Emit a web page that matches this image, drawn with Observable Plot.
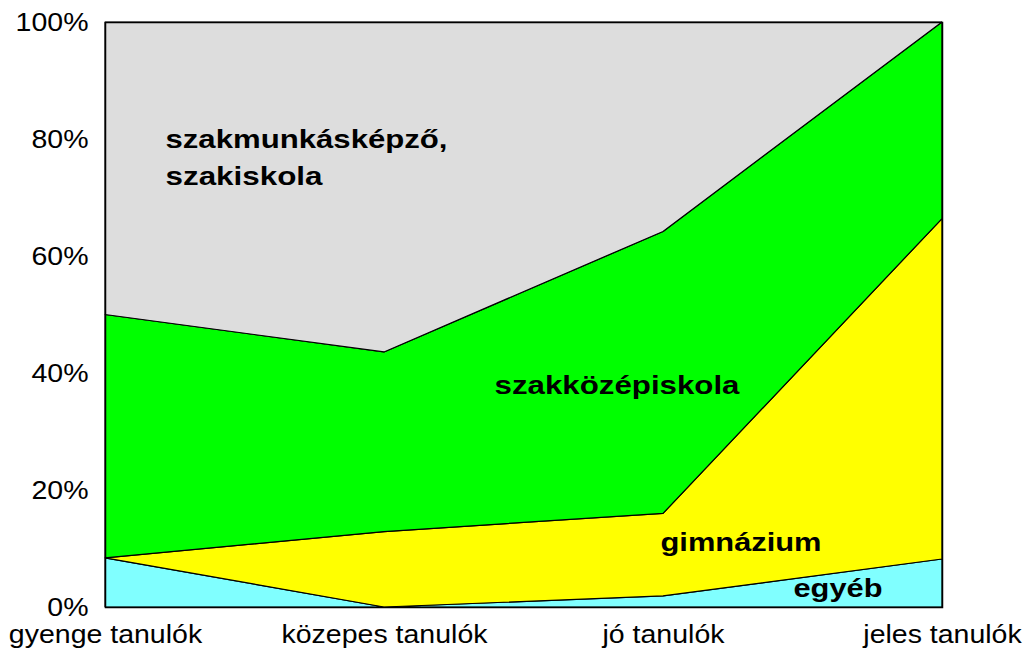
<!DOCTYPE html>
<html>
<head>
<meta charset="utf-8">
<script src="https://cdn.jsdelivr.net/npm/d3@7"></script>
<script src="https://cdn.jsdelivr.net/npm/@observablehq/plot@0.6"></script>
<style>
  html, body { margin: 0; padding: 0; background: #ffffff; }
  #chart { width: 1026px; height: 652px; }
</style>
</head>
<body>
<div id="chart"></div>
<script>
// Categories (x axis)
const categories = ["gyenge tanulók", "közepes tanulók", "jó tanulók", "jeles tanulók"];
// Series, bottom to top
const seriesNames = ["egyéb", "gimnázium", "szakközépiskola", "szakmunkásképző, szakiskola"];
const egyeb        = [8.4, 0.0, 1.9, 8.2];
const gimnazium    = [0.0, 12.9, 14.1, 58.2];
const szakkozep    = [41.6, 30.7, 48.2, 33.6];
const szakmunkas   = [50.0, 56.4, 35.8, 0.0];
const seriesColors = ["#80ffff", "#ffff00", "#00ff00", "#dddddd"];
const yTicks = [0, 20, 40, 60, 80, 100];

// In-chart labels (text, anchor category, anchor value)
const labelText  = ["szakmunkásképző,", "szakiskola", "szakközépiskola", "gimnázium", "egyéb"];
const labelCat   = ["gyenge tanulók", "gyenge tanulók", "közepes tanulók", "jó tanulók", "jó tanulók"];
const labelValue = [79.9, 73.6, 37.9, 11.0, 3.2];

const seriesValues = [egyeb, gimnazium, szakkozep, szakmunkas];
const data = [];
seriesNames.forEach((s, i) => {
  categories.forEach((c, j) => data.push({series: s, cat: c, value: seriesValues[i][j]}));
});

const labelDx = [60, 60, 110, -3, 130];
const labelWidths = [282, 157, 245, 161, 89];

const labelMarks = labelText.map((t, i) => Plot.text([{t, cat: labelCat[i], v: labelValue[i]}], {
  x: "cat", y: "v", text: "t", dx: labelDx[i],
  textAnchor: "start", lineAnchor: "middle",
  fontSize: 25, fontWeight: "bold", fill: "black",
  className: "lbl"
}));

const chart = Plot.plot({
  width: 1026,
  height: 652,
  marginLeft: 105,
  marginRight: 84,
  marginTop: 22,
  marginBottom: 45,
  style: {fontFamily: "Liberation Sans, Arial, sans-serif", fontSize: "25px", background: "white", color: "black"},
  x: {type: "point", domain: categories, padding: 0, label: null, tickSize: 0, tickPadding: 18},
  y: {domain: [0, 100], ticks: yTicks, tickFormat: d => d + "%", label: null, tickSize: 0, tickPadding: 17},
  color: {domain: seriesNames, range: seriesColors},
  marks: [
    Plot.areaY(data, Plot.stackY({
      x: "cat", y: "value", z: "series", fill: "series",
      order: seriesNames,
      stroke: "black", strokeWidth: 1.2, strokeLinejoin: "miter"
    })),
    Plot.frame({stroke: "black", strokeWidth: 1.5}),
    ...labelMarks
  ]
});

document.getElementById("chart").appendChild(chart);

// Horizontal stretch of text to match reference proportions
chart.querySelectorAll("g[aria-label$='axis tick label'] text").forEach(t => {
  const w = t.getComputedTextLength();
  t.setAttribute("textLength", (w * 1.14).toFixed(1));
  t.setAttribute("lengthAdjust", "spacingAndGlyphs");
});
chart.querySelectorAll("g.lbl text").forEach((t, i) => {
  t.setAttribute("textLength", labelWidths[i]);
  t.setAttribute("lengthAdjust", "spacingAndGlyphs");
});
</script>
</body>
</html>
